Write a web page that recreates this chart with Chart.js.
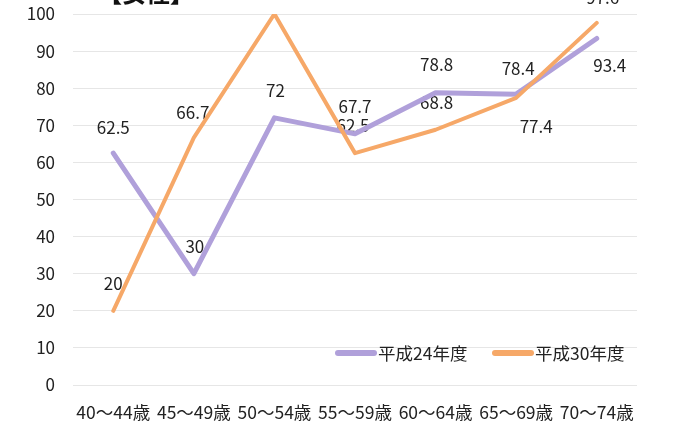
<!DOCTYPE html>
<html lang="ja">
<head>
<meta charset="utf-8">
<script src="https://cdn.jsdelivr.net/npm/chart.js@4/dist/chart.umd.min.js"></script>
<style>
  html, body { margin: 0; padding: 0; background: #fff; overflow: hidden; }
  #wrap { width: 675px; height: 432px; overflow: hidden; position: relative; }
  #chart { position: absolute; left: 0; top: -30px; }
</style>
</head>
<body>
<div id="wrap"><canvas id="chart" width="675" height="462"></canvas></div>
<script>
// ===== DATA =====
const ageGroups = ['40〜44歳', '45〜49歳', '50〜54歳', '55〜59歳', '60〜64歳', '65〜69歳', '70〜74歳'];
const seriesNames = ['平成24年度', '平成30年度'];
const h24Values = [62.5, 30, 72, 67.7, 78.8, 78.4, 93.4];
const h30Values = [20, 66.7, 100, 62.5, 68.8, 77.4, 97.6];
const yTicks = [0, 10, 20, 30, 40, 50, 60, 70, 80, 90, 100];

// value label nudges (dx, dy) from each point
const h24LabelShift = [[0, -26], [1, -27], [1, -27], [0, -27], [1, -28], [2, -26], [13, 27]];
const h30LabelShift = [[0, -27], [-1, -25], [0, -27], [-2, -28], [1, -27], [20, 29], [6, -25]];

const PURPLE = 'rgb(176, 160, 218)';
const ORANGE = 'rgb(246, 168, 104)';
const FONT = '"Noto Sans CJK JP", "Noto Sans", sans-serif';

// ===== VALUE LABELS (under the lines) =====
const valueLabels = {
    id: 'valueLabels',
    beforeDatasetsDraw(chart) {
        const ctx = chart.ctx;
        ctx.save();
        ctx.font = '17px ' + FONT;
        ctx.fillStyle = '#222';
        ctx.textAlign = 'center';
        ctx.textBaseline = 'middle';
        chart.data.datasets.forEach((ds, i) => {
            const meta = chart.getDatasetMeta(i);
            meta.data.forEach((pt, j) => {
                const [dx, dy] = ds.labelShift[j];
                ctx.fillText(String(ds.data[j]), pt.x + dx, pt.y + dy);
            });
        });
        ctx.restore();
    }
};

// ===== TITLE + LEGEND =====
const decorations = {
    id: 'decorations',
    afterDraw(chart) {
        const ctx = chart.ctx;
        ctx.save();
        ctx.fillStyle = '#111';
        ctx.font = 'bold 24px ' + FONT;
        ctx.textAlign = 'center';
        ctx.textBaseline = 'middle';
        ctx.fillText('【女性】', 146, 23);

        // legend sits inside the plot, lower right
        const y = chart.chartArea.bottom - 32;
        const items = [[335, PURPLE], [492, ORANGE]];
        ctx.font = '17.5px ' + FONT;
        ctx.textAlign = 'left';
        chart.data.datasets.forEach((ds, i) => {
            const x = items[i][0];
            ctx.strokeStyle = items[i][1];
            ctx.lineWidth = 6;
            ctx.lineCap = 'round';
            ctx.beginPath();
            ctx.moveTo(x + 3, y);
            ctx.lineTo(x + 39, y);
            ctx.stroke();
            ctx.fillStyle = '#222';
            ctx.fillText(ds.label, x + 43, y);
        });
        ctx.restore();
    }
};

new Chart(document.getElementById('chart'), {
    type: 'line',
    data: {
        labels: ageGroups,
        datasets: [
            {
                label: seriesNames[0],
                data: h24Values,
                labelShift: h24LabelShift,
                borderColor: PURPLE,
                borderWidth: 5,
                order: 1
            },
            {
                label: seriesNames[1],
                data: h30Values,
                labelShift: h30LabelShift,
                borderColor: ORANGE,
                borderWidth: 4,
                order: 0
            }
        ]
    },
    options: {
        responsive: false,
        animation: false,
        events: [],
        layout: { padding: { top: 44, right: 38, bottom: 10, left: 0 } },
        elements: {
            point: { radius: 0 },
            line: { tension: 0, borderCapStyle: 'round', borderJoinStyle: 'round' }
        },
        plugins: {
            legend: { display: false },
            title: { display: false },
            tooltip: { enabled: false }
        },
        scales: {
            x: {
                offset: true,
                afterFit: (scale) => { scale.height = 37; },
                grid: { display: false, drawTicks: false },
                border: { display: false },
                ticks: {
                    color: '#222',
                    padding: 17,
                    maxRotation: 0,
                    autoSkip: false,
                    font: { family: FONT, size: 17.5 }
                }
            },
            y: {
                min: 0,
                max: 100,
                afterFit: (scale) => { scale.width = 73; },
                afterBuildTicks: (scale) => { scale.ticks = yTicks.map(v => ({ value: v })); },
                grid: { color: '#e6e6e6', lineWidth: 1, drawTicks: false },
                border: { display: false },
                ticks: {
                    color: '#222',
                    padding: 18,
                    font: { family: FONT, size: 17 }
                }
            }
        }
    },
    plugins: [valueLabels, decorations]
});
</script>
</body>
</html>
